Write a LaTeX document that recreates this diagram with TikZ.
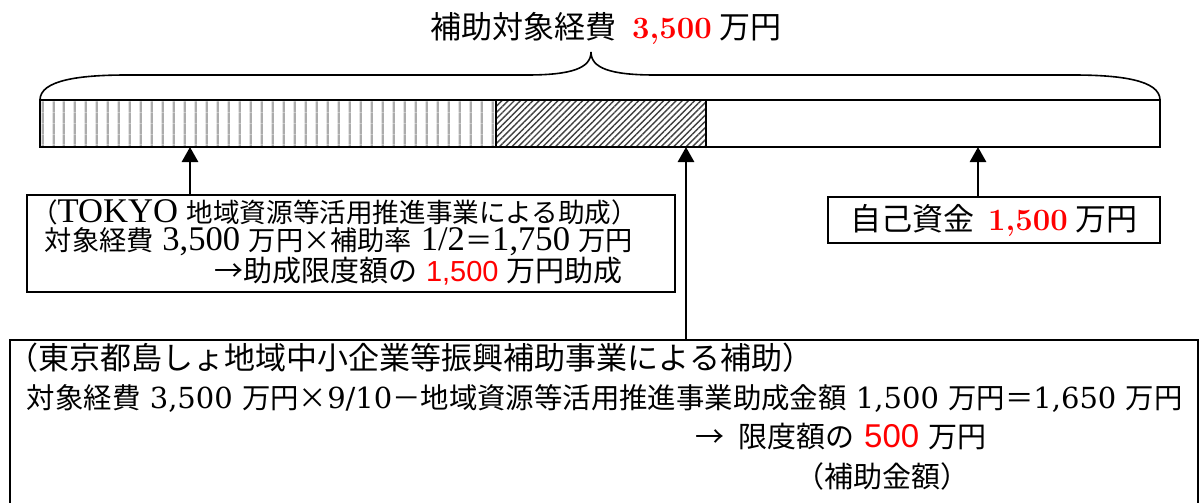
\documentclass[tikz,border=0pt]{standalone}
\usepackage{fontspec}
\usepackage{xcolor}
\usetikzlibrary{arrows.meta,patterns.meta}
\newfontfamily\jp{Noto Sans CJK JP}
\newfontfamily\tms{Liberation Serif}
\newfontfamily\ari{Liberation Sans}
\newfontfamily\dvs{DejaVu Serif}
\newcommand\bignum[1]{{\dvs\fontsize{14.5}{19}\selectfont #1}}
\newcommand\tmsnum[1]{{\tms\fontsize{17.3}{14}\selectfont #1}}

\tikzset{
	barpart/.style={draw,line width=1pt,inner sep=0pt,outer sep=0pt,minimum height=23.5pt,anchor=north west},
	textbox/.style={draw,line width=1pt,inner sep=0pt,outer sep=0pt,anchor=north west},
	uparrow/.style={line width=1.4pt,-{Triangle[length=7.5pt,width=8pt]}},
}

\begin{document}
\begin{tikzpicture}[x=0.5pt,y=-0.5pt]
			\useasboundingbox (0,0) rectangle (1201,503);
			\clip (0,0) rectangle (1201,503);

			\node[anchor=base] (total) at (606,39)
			{\fontsize{15.5}{16}\selectfont{\jp 補助対象経費}\hspace{8pt}\textcolor{red}{\bfseries 3,500}\hspace{4pt}{\jp 万円}};

			\draw[line width=0.8pt] (40,100) .. controls (40,80) and (80,75) .. (127,75) -- (527,75)
				.. controls (572,75) and (591,68) .. (591,52) .. controls (591,68) and (610,75) .. (655,75)
				-- (1073,75) .. controls (1120,75) and (1160,80) .. (1160,100);

			\node[barpart,minimum width=228pt,pattern={Lines[angle=90,distance=5.35pt,line width=1.1pt]},pattern color=gray!65] (tokyo) at (40,100) {};
			\node[barpart,minimum width=105pt,pattern={Lines[angle=45,distance=2.2pt,line width=0.7pt]},pattern color=black!75] (island) at (tokyo.north east) {};
			\node[barpart,minimum width=227pt] (own) at (island.north east) {};

			\node[textbox] (tokyobox) at (27,195)
			{
				\begin{minipage}[t][48.5pt][t]{324pt}
					\raggedright
					\fontsize{13.3}{14}\selectfont
					\hspace*{2pt}\mbox{\rule{0pt}{13.5pt}{\jp （}\tmsnum{TOKYO }{\jp 地域資源等活用推進事業による助成）}}\par
					\hspace*{9pt}\mbox{{\jp\fontsize{13.6}{14}\selectfont 対象経費}\tmsnum{ 3,500 }{\jp\fontsize{13.6}{14}\selectfont 万円×補助率}\tmsnum{ 1/2}{\jp\fontsize{13.6}{14}\selectfont ＝}\tmsnum{1,750 }{\jp\fontsize{13.6}{14}\selectfont 万円}}\par
					\hspace*{94pt}\mbox{{\jp\fontsize{14.5}{14}\selectfont →助成限度額の}{\ari\fontsize{14.5}{14}\selectfont\ \textcolor{red}{1,500} }{\jp\fontsize{14.5}{14}\selectfont 万円助成}}\par
				\end{minipage}
			};

			\node[textbox,minimum width=166pt,minimum height=23pt] (ownbox) at (828,197)
			{\fontsize{15.5}{16}\selectfont{\jp 自己資金}\hspace{7pt}\textcolor{red}{\bfseries 1,500}\hspace{4pt}{\jp 万円}};

			\node[textbox] (islandbox) at (10,340)
			{
				\begin{minipage}[t][100pt][t]{594pt}
					\raggedright
					\fontsize{14.2}{19.7}\selectfont
					\hspace*{-1pt}\mbox{\rule{0pt}{14.5pt}{\jp\fontsize{15.5}{19.7}\selectfont （東京都島しょ地域中小企業等振興補助事業による補助）}}\par
					\hspace*{8.5pt}\mbox{{\jp 対象経費}\bignum{ 3,500 }{\jp 万円×}\bignum{9/10}{\jp －地域資源等活用推進事業助成金額}\bignum{ 1,500 }{\jp 万円＝}\bignum{1,650 }{\jp 万円}}\par
					\hspace*{343pt}\mbox{{\jp\fontsize{14.5}{19.7}\selectfont →\hspace{7pt}限度額の}{\ari\fontsize{16.5}{19.7}\selectfont\ \textcolor{red}{500} }{\jp\fontsize{14.5}{19.7}\selectfont 万円}}\par
					\hspace*{393pt}\mbox{{\jp\fontsize{14.5}{19.7}\selectfont （補助金額）}}\par
				\end{minipage}
			};

			\coordinate (tokyoend) at ([xshift=75pt]tokyo.south west);
			\coordinate (islandend) at ([xshift=95pt]island.south west);
			\coordinate (ownend) at ([xshift=136pt]own.south west);
			\draw[uparrow] (tokyoend |- tokyobox.north) -- (tokyoend);
			\draw[uparrow] (islandend |- islandbox.north) -- (islandend);
			\draw[uparrow] (ownend |- ownbox.north) -- (ownend);
		\end{tikzpicture}
\end{document}
